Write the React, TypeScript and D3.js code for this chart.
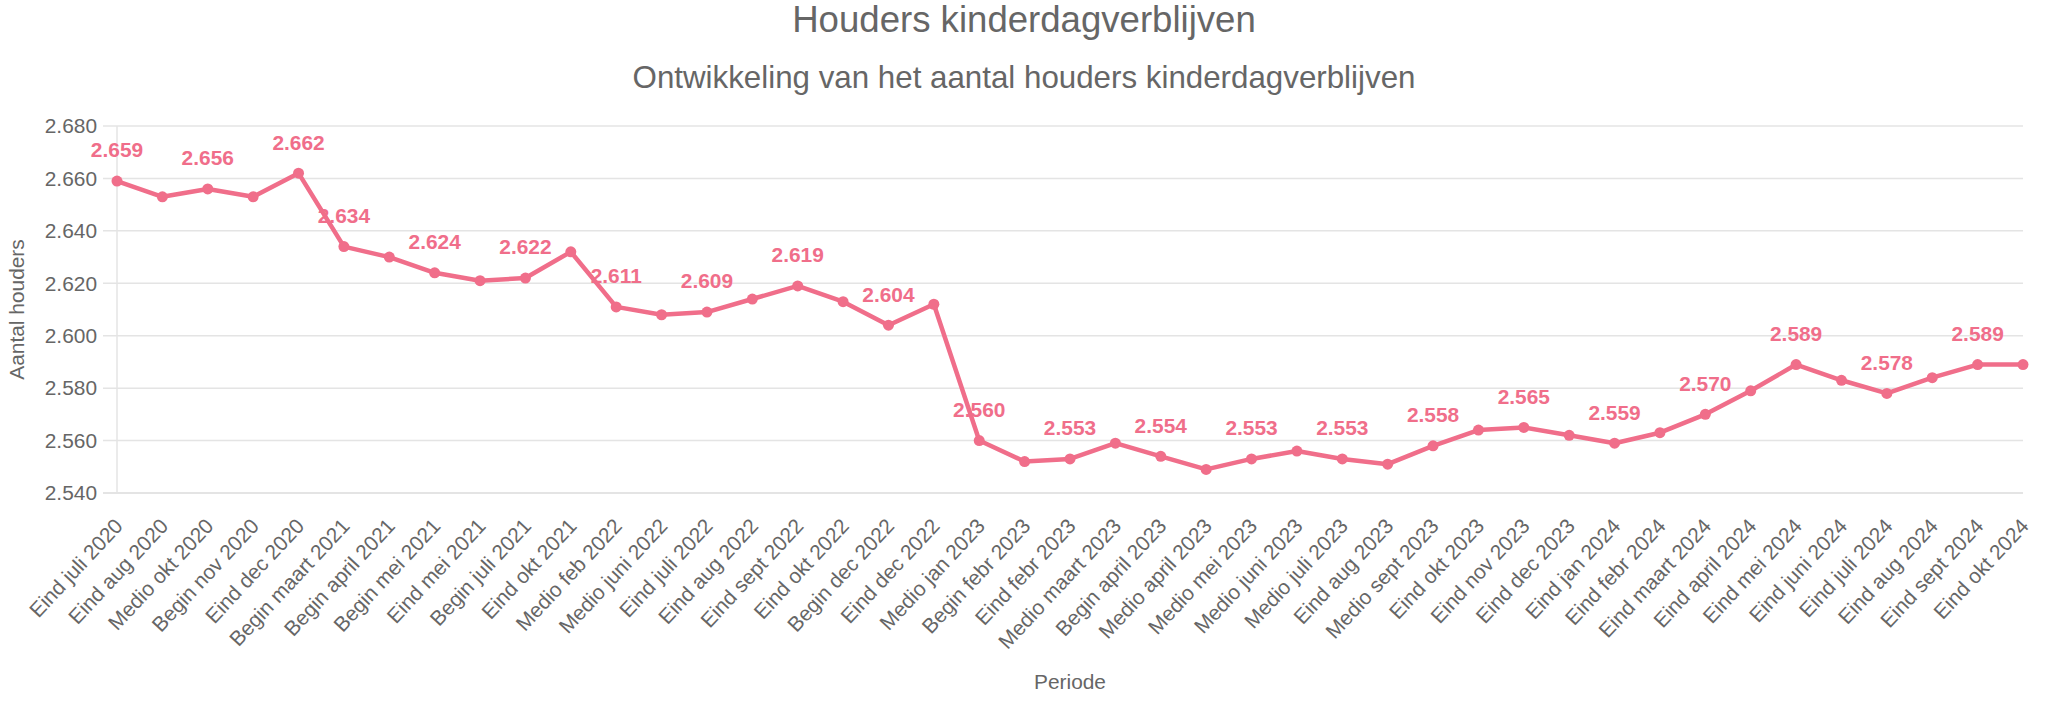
import React, { useMemo } from 'react';
import * as d3 from 'd3';

// --- data ---
const periods = [
  'Eind juli 2020', 'Eind aug 2020', 'Medio okt 2020', 'Begin nov 2020', 'Eind dec 2020',
  'Begin maart 2021', 'Begin april 2021', 'Begin mei 2021', 'Eind mei 2021', 'Begin juli 2021',
  'Eind okt 2021', 'Medio feb 2022', 'Medio juni 2022', 'Eind juli 2022', 'Eind aug 2022',
  'Eind sept 2022', 'Eind okt 2022', 'Begin dec 2022', 'Eind dec 2022', 'Medio jan 2023',
  'Begin febr 2023', 'Eind febr 2023', 'Medio maart 2023', 'Begin april 2023', 'Medio april 2023',
  'Medio mei 2023', 'Medio juni 2023', 'Medio juli 2023', 'Eind aug 2023', 'Medio sept 2023',
  'Eind okt 2023', 'Eind nov 2023', 'Eind dec 2023', 'Eind jan 2024', 'Eind febr 2024',
  'Eind maart 2024', 'Eind april 2024', 'Eind mei 2024', 'Eind juni 2024', 'Eind juli 2024',
  'Eind aug 2024', 'Eind sept 2024', 'Eind okt 2024',
];

const houders = [
  2659, 2653, 2656, 2653, 2662,
  2634, 2630, 2624, 2621, 2622,
  2632, 2611, 2608, 2609, 2614,
  2619, 2613, 2604, 2612, 2560,
  2552, 2553, 2559, 2554, 2549,
  2553, 2556, 2553, 2551, 2558,
  2564, 2565, 2562, 2559, 2563,
  2570, 2579, 2589, 2583, 2578,
  2584, 2589, 2589,
];

const yTicks = [2540, 2560, 2580, 2600, 2620, 2640, 2660, 2680];

const W = 2048;
const H = 704;
const FONT = '"Liberation Sans", Arial, Helvetica, sans-serif';
const FS = 20.9; // 16px at the reference's pixel ratio
const TEXT = '#666';
const GRID = '#e4e4e4';
const LINE = '#f06e8a';

const nl = d3.formatLocale({ decimal: ',', thousands: '.', grouping: [3], currency: ['€', ''] });
const fmt = nl.format(',d');

export default function App() {
  const left = 117, right = 2023, top = 126, bottom = 493;

  const x = useMemo(() => d3.scalePoint<number>().domain(d3.range(periods.length)).range([left, right]), []);
  const y = useMemo(() => d3.scaleLinear().domain([2540, 2680]).range([bottom, top]), []);

  const line = d3.line<number>().x((_, i) => x(i)!).y(d => y(d));

  // datalabels-like collision: keep a label only if it doesn't overlap one already kept
  const labels = useMemo(() => {
    const kept: { x: number; y: number; v: number }[] = [];
    const bw = 62, bh = 34;
    houders.forEach((v, i) => {
      const cx = x(i)!, cy = y(v) - 31;
      const hit = kept.some(k => Math.abs(k.x - cx) < bw && Math.abs(k.y - cy) < bh);
      if (!hit) kept.push({ x: cx, y: cy, v });
    });
    return kept;
  }, [x, y]);

  return (
    <div style={{ position: 'absolute', left: 0, top: 0 }}>
      <svg width={W} height={H} style={{ display: 'block', background: '#fff' }} fontFamily={FONT}>
        <text x={W / 2} y={32} textAnchor="middle" fontSize={36.6} fill={TEXT}>Houders kinderdagverblijven</text>
        <text x={W / 2} y={88} textAnchor="middle" fontSize={31.3} fill={TEXT}>Ontwikkeling van het aantal houders kinderdagverblijven</text>

        {/* grid + y ticks */}
        {yTicks.map(t => (
          <g key={t}>
            <line x1={left - 14} x2={right} y1={y(t)} y2={y(t)} stroke={GRID} strokeWidth={t === 2540 ? 2 : 1.5} />
            <text x={left - 20} y={y(t)} dy="0.35em" textAnchor="end" fontSize={FS} fill={TEXT}>{fmt(t)}</text>
          </g>
        ))}
        <line x1={left} x2={left} y1={top} y2={bottom} stroke={GRID} strokeWidth={1.5} />

        {/* x tick labels */}
        {periods.map((p, i) => (
          <text key={p} transform={`translate(${x(i)! + 7},${bottom + 34}) rotate(-47)`} textAnchor="end"
            fontSize={FS} fill={TEXT}>{p}</text>
        ))}

        <text transform={`translate(24,${(top + bottom) / 2}) rotate(-90)`} textAnchor="middle" fontSize={FS} fill={TEXT}>Aantal houders</text>
        <text x={(left + right) / 2} y={689} textAnchor="middle" fontSize={FS} fill={TEXT}>Periode</text>

        {/* series */}
        <path d={line(houders) || ''} fill="none" stroke={LINE} strokeWidth={4.5} strokeLinejoin="round" />
        {houders.map((v, i) => (
          <circle key={i} cx={x(i)} cy={y(v)} r={5.5} fill={LINE} />
        ))}
        {labels.map((l, i) => (
          <text key={i} x={l.x} y={l.y} dy="0.35em" textAnchor="middle" fontSize={FS} fontWeight="bold" fill={LINE}>{fmt(l.v)}</text>
        ))}
      </svg>
    </div>
  );
}
